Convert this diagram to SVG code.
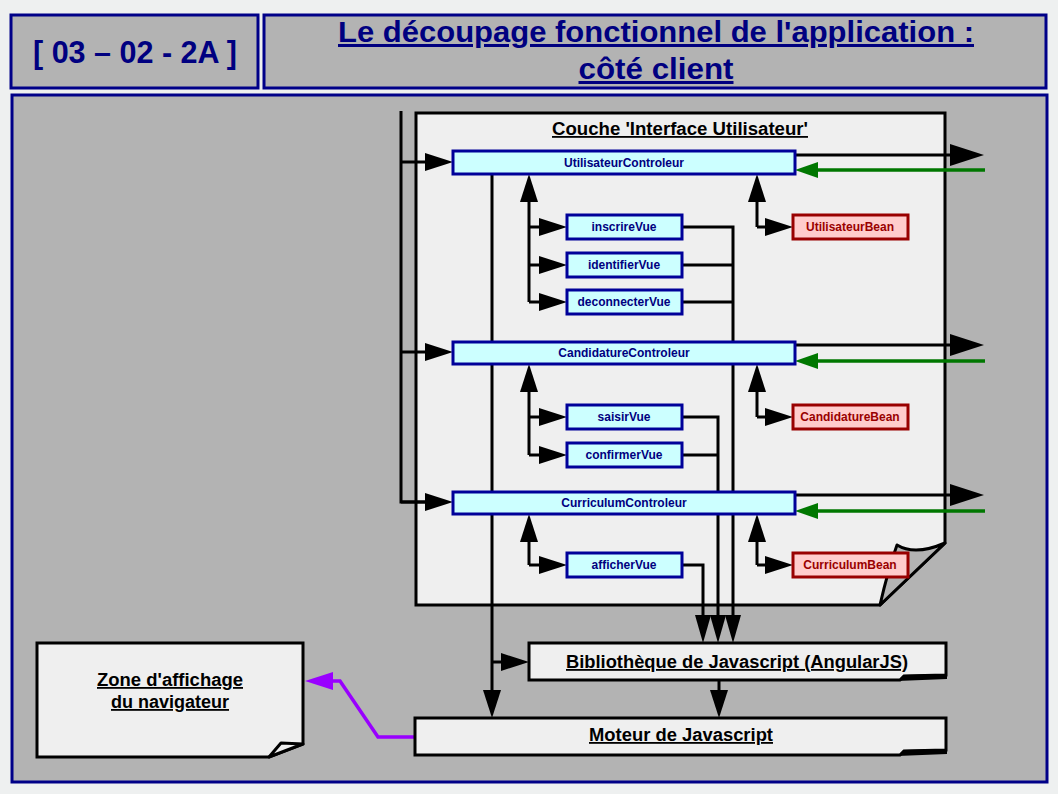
<svg xmlns="http://www.w3.org/2000/svg" width="1058" height="794" viewBox="0 0 1058 794">
<defs>
<style>
.t{font-family:"Liberation Sans",Arial,sans-serif;font-weight:bold}
.hdr{fill:#b3b3b3;stroke:#000088;stroke-width:3}
.hd{fill:#000080;text-anchor:middle}
.page{fill:#efefef;stroke:#000;stroke-width:3}
.bl{fill:#000;text-anchor:middle;text-decoration:underline}
.ctl{fill:#ccffff;stroke:#000099;stroke-width:3}
.ct{fill:#000080;font-size:12px;text-anchor:middle}
.bean{fill:#ffcccc;stroke:#990000;stroke-width:3}
.bt{fill:#990000;font-size:12px;text-anchor:middle}
.ln{fill:none;stroke:#000;stroke-width:3}
.a{marker-end:url(#ah)}
.s{marker-end:url(#sm)}
.b{marker-end:url(#big)}
.g{fill:none;stroke:#007700;stroke-width:3.5;marker-end:url(#gr)}
.p{fill:none;stroke:#9900ff;stroke-width:3.5;marker-end:url(#pu)}
</style>
<marker id="ah" markerUnits="userSpaceOnUse" markerWidth="28" markerHeight="18" refX="0" refY="9" orient="auto" overflow="visible"><path d="M0,0 L28,9 L0,18 Z" fill="#000"/></marker>
<marker id="sm" markerUnits="userSpaceOnUse" markerWidth="28" markerHeight="16" refX="0" refY="8" orient="auto" overflow="visible"><path d="M0,0 L28,8 L0,16 Z" fill="#000"/></marker>
<marker id="big" markerUnits="userSpaceOnUse" markerWidth="34" markerHeight="22" refX="0" refY="11" orient="auto" overflow="visible"><path d="M0,0 L34,11 L0,22 Z" fill="#000"/></marker>
<marker id="gr" markerUnits="userSpaceOnUse" markerWidth="23" markerHeight="16" refX="0" refY="8" orient="auto" overflow="visible"><path d="M0,0 L23,8 L0,16 Z" fill="#007700"/></marker>
<marker id="pu" markerUnits="userSpaceOnUse" markerWidth="28" markerHeight="18" refX="0" refY="9" orient="auto" overflow="visible"><path d="M0,0 L28,9 L0,18 Z" fill="#9900ff"/></marker>
</defs>
<rect x="0" y="0" width="1058" height="794" fill="#eef0f0"/>
<g id="header-num">
<rect class="hdr" x="11" y="15" width="247" height="73"/>
<text class="t hd" x="135" y="63" font-size="31" textLength="204" lengthAdjust="spacingAndGlyphs">[ 03 – 02 - 2A ]</text>
</g>
<g id="header-title">
<rect class="hdr" x="264" y="15" width="782" height="73"/>
<text class="t hd" x="656" y="42" font-size="30" text-decoration="underline" textLength="636" lengthAdjust="spacingAndGlyphs">Le découpage fonctionnel de l'application :</text>
<text class="t hd" x="656" y="79" font-size="30" text-decoration="underline" textLength="155" lengthAdjust="spacingAndGlyphs">côté client</text>
</g>
<rect id="panel" class="hdr" x="12" y="95" width="1035" height="687"/>
<g id="couche">
<path class="page" d="M416,113 H945 V543 L880,605 H416 Z"/>
<path d="M880,605 Q888,570 897,545 Q915,556 945,543 Z" fill="#b3b3b3" stroke="#000" stroke-width="3" stroke-linejoin="round"/>
<text class="t bl" x="680" y="135" font-size="18" textLength="256" lengthAdjust="spacingAndGlyphs">Couche 'Interface Utilisateur'</text>
</g>
<g id="connectors">
<path class="ln" d="M401,111 V502 H425"/>
<path class="ln a" d="M401,502 H425"/>
<path class="ln a" d="M401,162 H425"/>
<path class="ln a" d="M401,352 H425"/>
<path class="ln" d="M492,174 V690"/>
<path class="ln a" d="M492,690 V690.1"/>
<path class="ln a" d="M492,662 H501"/>
<path class="ln" d="M719,680 V690"/>
<path class="ln a" d="M719,690 V690.1"/>
<path class="ln b" d="M795,155 H950"/>
<path class="g" d="M985,170 H818"/>
<path class="ln b" d="M795,345 H950"/>
<path class="g" d="M985,361 H818"/>
<path class="ln b" d="M795,495 H950"/>
<path class="g" d="M985,511 H818"/>
<path class="ln a" d="M529,302 V202"/>
<path class="ln a" d="M529,227 H539"/>
<path class="ln a" d="M529,265 H539"/>
<path class="ln a" d="M529,302 H539"/>
<path class="ln a" d="M529,455 V392"/>
<path class="ln a" d="M529,417 H539"/>
<path class="ln a" d="M529,455 H539"/>
<path class="ln a" d="M529,565 V542"/>
<path class="ln a" d="M529,565 H539"/>
<path class="ln a" d="M757,227 V202"/>
<path class="ln a" d="M757,227 H765"/>
<path class="ln a" d="M757,417 V392"/>
<path class="ln a" d="M757,417 H765"/>
<path class="ln a" d="M757,565 V542"/>
<path class="ln a" d="M757,565 H765"/>
<path class="ln" d="M682,227 H733 V615"/>
<path class="ln" d="M682,265 H733"/>
<path class="ln" d="M682,302 H733"/>
<path class="ln" d="M682,417 H718 V615"/>
<path class="ln" d="M682,455 H718"/>
<path class="ln" d="M682,565 H703 V615"/>
<path class="ln s" d="M703,615 V615.1"/>
<path class="ln s" d="M718,615 V615.1"/>
<path class="ln s" d="M733,615 V615.1"/>
<path class="p" d="M415,737 H378 L340,681 H333"/>
</g>
<g id="UtilisateurControleur"><rect class="ctl" x="453" y="151" width="342" height="23"/><text class="t ct" x="624" y="167">UtilisateurControleur</text></g>
<g id="inscrireVue"><rect class="ctl" x="567" y="215" width="115" height="24"/><text class="t ct" x="624" y="231">inscrireVue</text></g>
<g id="identifierVue"><rect class="ctl" x="567" y="253" width="115" height="24"/><text class="t ct" x="624" y="269">identifierVue</text></g>
<g id="deconnecterVue"><rect class="ctl" x="567" y="290" width="115" height="24"/><text class="t ct" x="624" y="306">deconnecterVue</text></g>
<g id="UtilisateurBean"><rect class="bean" x="793" y="215" width="115" height="24"/><text class="t bt" x="850" y="231">UtilisateurBean</text></g>
<g id="CandidatureControleur"><rect class="ctl" x="453" y="342" width="342" height="22"/><text class="t ct" x="624" y="357">CandidatureControleur</text></g>
<g id="saisirVue"><rect class="ctl" x="567" y="405" width="115" height="24"/><text class="t ct" x="624" y="421">saisirVue</text></g>
<g id="confirmerVue"><rect class="ctl" x="567" y="443" width="115" height="24"/><text class="t ct" x="624" y="459">confirmerVue</text></g>
<g id="CandidatureBean"><rect class="bean" x="793" y="405" width="115" height="24"/><text class="t bt" x="850" y="421">CandidatureBean</text></g>
<g id="CurriculumControleur"><rect class="ctl" x="453" y="492" width="342" height="22"/><text class="t ct" x="624" y="507">CurriculumControleur</text></g>
<g id="afficherVue"><rect class="ctl" x="567" y="553" width="115" height="24"/><text class="t ct" x="624" y="569">afficherVue</text></g>
<g id="CurriculumBean"><rect class="bean" x="793" y="553" width="115" height="24"/><text class="t bt" x="850" y="569">CurriculumBean</text></g>
<g id="bibliotheque">
<path class="page" d="M529,643 H946 V675 L904,676 L900,680 H529 Z"/>
<path d="M900,680 L904,676 L946,675 L946,678 Z" fill="#000" stroke="#000" stroke-width="2"/>
<text class="t bl" x="737" y="668" font-size="18" textLength="342" lengthAdjust="spacingAndGlyphs">Bibliothèque de Javascript (AngularJS)</text>
</g>
<g id="moteur">
<path class="page" d="M415,718 H946 V750 L904,751 L900,755 H415 Z"/>
<path d="M900,755 L904,751 L946,750 L946,753 Z" fill="#000" stroke="#000" stroke-width="2"/>
<text class="t bl" x="681" y="741" font-size="18" textLength="184" lengthAdjust="spacingAndGlyphs">Moteur de Javascript</text>
</g>
<g id="zone">
<path class="page" d="M37,643 H303 V744 L269,757 H37 Z"/>
<path d="M269,757 L281,743 L303,744 Z" fill="#efefef" stroke="#000" stroke-width="3" stroke-linejoin="round"/>
<text class="t bl" x="170" y="686" font-size="18" textLength="146" lengthAdjust="spacingAndGlyphs">Zone d'affichage</text>
<text class="t bl" x="170" y="708" font-size="18">du navigateur</text>
</g>
</svg>
